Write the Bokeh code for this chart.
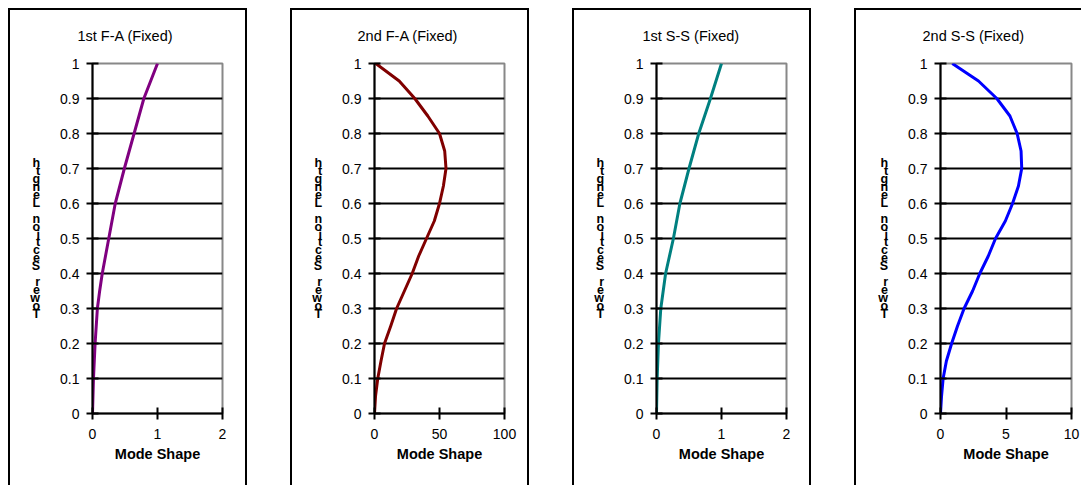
from bokeh.plotting import figure
from bokeh.models import Range1d, FixedTicker, NumeralTickFormatter
from bokeh.layouts import row
from bokeh.embed import file_html
from bokeh.resources import INLINE

# ---- data ----
titles = ["1st F-A (Fixed)", "2nd F-A (Fixed)", "1st S-S (Fixed)", "2nd S-S (Fixed)"]
x_label = "Mode Shape"
y_label = "Tower Section Length"
y_ticks = [0, 0.1, 0.2, 0.3, 0.4, 0.5, 0.6, 0.7, 0.8, 0.9, 1.0]
x_ticks_1 = [0, 1, 2]
x_ticks_2 = [0, 50, 100]
x_ticks_3 = [0, 1, 2]
x_ticks_4 = [0, 5, 10]

height_1 = [0, 0.1, 0.2, 0.3, 0.35, 0.4, 0.45, 0.5, 0.6, 0.7, 0.8, 0.9, 1.0]
mode_1 = [0, 0.015, 0.04, 0.075, 0.11, 0.15, 0.2, 0.25, 0.35, 0.49, 0.64, 0.79, 1.0]

height_2 = [0, 0.05, 0.1, 0.15, 0.2, 0.25, 0.3, 0.35, 0.4, 0.45, 0.5, 0.55, 0.6, 0.65,
            0.7, 0.75, 0.8, 0.85, 0.9, 0.95, 1.0]
mode_2 = [0, 0.8, 2.5, 5, 7.7, 12.5, 17, 23, 29, 34, 40, 46, 50, 53, 55, 54, 50, 41, 31, 19, 1]

height_3 = [0, 0.1, 0.2, 0.3, 0.4, 0.5, 0.6, 0.7, 0.8, 0.9, 1.0]
mode_3 = [0, 0.01, 0.03, 0.066, 0.14, 0.26, 0.36, 0.5, 0.65, 0.83, 1.0]

height_4 = [0, 0.05, 0.1, 0.15, 0.2, 0.25, 0.3, 0.35, 0.4, 0.45, 0.5, 0.55, 0.6, 0.65,
            0.7, 0.75, 0.8, 0.85, 0.9, 0.95, 1.0]
mode_4 = [0, 0.08, 0.2, 0.45, 0.85, 1.3, 1.8, 2.45, 3.0, 3.65, 4.2, 4.95, 5.5, 5.95,
          6.2, 6.15, 5.85, 5.3, 4.3, 2.9, 0.9]

colors = ["#800080", "#800000", "#008080", "#0000FF"]

FONT = "Liberation Sans"

panels = [
    dict(title=titles[0], x=mode_1, y=height_1, ticks=x_ticks_1, color=colors[0],
         w=239, left=82, right=27, toff=-15, last=False),
    dict(title=titles[1], x=mode_2, y=height_2, ticks=x_ticks_2, color=colors[1],
         w=239, left=82, right=27, toff=-17, last=False),
    dict(title=titles[2], x=mode_3, y=height_3, ticks=x_ticks_3, color=colors[2],
         w=239, left=82, right=27, toff=-14, last=False),
    dict(title=titles[3], x=mode_4, y=height_4, ticks=x_ticks_4, color=colors[3],
         w=227, left=84, right=12, toff=-18, last=True),
]

H = 477
stacked = "\n".join(reversed(list(y_label)))

figs = []
for d in panels:
    p = figure(width=d["w"], height=H, output_backend="svg", toolbar_location=None,
               title=d["title"],
               x_range=Range1d(d["ticks"][0], d["ticks"][-1]), y_range=Range1d(0, 1),
               min_border_left=d["left"], min_border_right=d["right"],
               min_border_top=53, min_border_bottom=74)
    p.title.align = "left"
    p.title.offset = d["toff"]
    p.title.vertical_align = "top"
    p.title.standoff = 35
    p.title.text_font = FONT
    p.title.text_font_size = "14.5px"
    p.title.text_font_style = "normal"
    p.title.text_color = "black"

    p.background_fill_color = "white"
    p.border_fill_color = "white"
    p.outline_line_color = "#888888"
    p.outline_line_width = 2

    p.xgrid.visible = False
    p.ygrid.ticker = FixedTicker(ticks=y_ticks[1:-1])
    p.ygrid.grid_line_color = "black"
    p.ygrid.grid_line_width = 2

    for ax in (p.xaxis[0], p.yaxis[0]):
        ax.axis_line_color = "black"
        ax.axis_line_width = 2
        ax.major_tick_line_color = "black"
        ax.major_tick_line_width = 2
        ax.major_tick_in = 6
        ax.major_tick_out = 6
        ax.minor_tick_line_color = None
        ax.major_label_text_font = FONT
        ax.major_label_text_font_size = "14px"
        ax.major_label_text_color = "black"

    p.yaxis.ticker = FixedTicker(ticks=y_ticks)
    p.yaxis.formatter = NumeralTickFormatter(format="0.[0]")
    p.yaxis.major_label_standoff = 7
    p.yaxis.axis_label = stacked
    p.yaxis.axis_label_orientation = "horizontal"
    p.yaxis.axis_label_text_font = FONT
    p.yaxis.axis_label_text_font_style = "bold"
    p.yaxis.axis_label_text_font_size = "12.5px"
    p.yaxis.axis_label_text_line_height = 0.57
    p.yaxis.axis_label_text_color = "black"
    p.yaxis.axis_label_standoff = 17

    p.xaxis.ticker = FixedTicker(ticks=d["ticks"])
    p.xaxis.major_label_standoff = 9
    p.xaxis.axis_label = x_label
    p.xaxis.axis_label_text_font = FONT
    p.xaxis.axis_label_text_font_style = "bold"
    p.xaxis.axis_label_text_font_size = "14.5px"
    p.xaxis.axis_label_text_color = "black"
    p.xaxis.axis_label_standoff = 4

    p.line(d["x"], d["y"], line_color=d["color"], line_width=3, line_join="round")

    if d["last"]:
        p.styles = {"border-left": "2px solid black", "border-top": "2px solid black"}
    else:
        p.styles = {"border-left": "2px solid black", "border-top": "2px solid black",
                    "border-right": "2px solid black"}
    figs.append(p)

layout = row(*figs, spacing=43)
layout.margin = (8, 0, 0, 8)

open("out.html", "w").write(file_html(layout, INLINE))
